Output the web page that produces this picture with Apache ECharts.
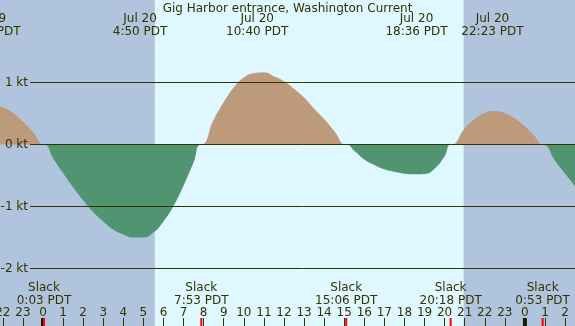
<!DOCTYPE html>
<html>
<head>
<meta charset="utf-8">
<title>Gig Harbor entrance, Washington Current</title>
<script src="https://cdn.jsdelivr.net/npm/echarts@6/dist/echarts.min.js"></script>
<style>html,body{margin:0;padding:0;} #main{width:575px;height:326px;}</style>
</head>
<body>
<div id="main"></div>
<script type="text/javascript">
// current speed in kt, hours counted from Jul 20 0:00 PDT
var hours  = [-2.5, -2, -1.5, -1, -0.5, 0.05,
              0.5, 1, 1.5, 2, 2.5, 3, 3.5, 4, 4.5, 5, 5.5, 6, 6.5, 7, 7.5, 7.88,
              8.5, 9, 9.5, 10, 10.5, 11, 11.5, 12, 12.5, 13, 13.5, 14, 14.5, 15.1,
              15.5, 16, 16.5, 17, 17.5, 18, 18.5, 19, 19.5, 20, 20.33,
              21, 21.5, 22, 22.5, 23, 23.5, 24, 24.5, 24.89,
              25.5, 26, 26.5];
var speeds = [0.65, 0.60, 0.51, 0.37, 0.20, 0,
              -0.22, -0.46, -0.69, -0.90, -1.09, -1.24, -1.37, -1.45, -1.50, -1.50, -1.42, -1.24, -0.99, -0.66, -0.29, 0,
              0.40, 0.68, 0.92, 1.08, 1.15, 1.16, 1.10, 1.02, 0.90, 0.76, 0.58, 0.41, 0.22, 0,
              -0.10, -0.24, -0.33, -0.40, -0.44, -0.47, -0.48, -0.475, -0.39, -0.19, 0,
              0.26, 0.41, 0.51, 0.54, 0.505, 0.42, 0.29, 0.13, 0,
              -0.26, -0.47, -0.67];

// slack water
var slackHours  = [0.05, 7.883, 15.1, 20.3, 24.883];
var slackLabels = ['Slack\n0:03 PDT', 'Slack\n7:53 PDT', 'Slack\n15:06 PDT', 'Slack\n20:18 PDT', 'Slack\n0:53 PDT'];

// max flood / max ebb
var peakHours  = [-2.667, 4.833, 10.667, 18.6, 22.383];
var peakLabels = ['Jul 19\n21:20 PDT', 'Jul 20\n4:50 PDT', 'Jul 20\n10:40 PDT', 'Jul 20\n18:36 PDT', 'Jul 20\n22:23 PDT'];

var sunrise = 5.57, sunset = 20.95;
var midnights = [0, 24];
var tickHours = [-2, -1, 0, 1, 2, 3, 4, 5, 6, 7, 8, 9, 10, 11, 12, 13, 14, 15, 16, 17, 18, 19, 20, 21, 22, 23, 24, 25, 26];
var ktLines = [1, 0, -1, -2];

var xMin = -2.141, xMax = 26.494, yMin = -2.927, yMax = 2.331;
var ink = '#333300';
var font = '12px "DejaVu Sans"';

var myChart = echarts.init(document.getElementById('main'));

function tickItem(color, w) {
    return function (params, api) {
        var p = api.coord([api.value(0), yMin]);
        return {type: 'rect', shape: {x: p[0] - w / 2, y: p[1] - 8, width: w, height: 8}, style: {fill: color}};
    };
}
function labelItem(texts, top) {
    return function (params, api) {
        var p = api.coord([api.value(0), 0]);
        return {
            type: 'text', x: p[0], y: top,
            style: {text: texts[params.dataIndex], fill: ink, font: font, align: 'center', verticalAlign: 'top', lineHeight: 13}
        };
    };
}
function at0(h) { return [h, 0]; }
// flood part (above 0) and ebb part (below 0)
function part(sign) {
    return hours.map(function (h, i) {
        var v = speeds[i];
        return [h, sign > 0 ? Math.max(v, 0) : Math.min(v, 0)];
    });
}
function fillSeries(sign, color) {
    return {
        type: 'line', xAxisIndex: 0, yAxisIndex: 0, z: 2, silent: true,
        data: part(sign), smooth: 0.5, showSymbol: false,
        lineStyle: {width: 0}, areaStyle: {color: color, opacity: 1}
    };
}

var option = {
    backgroundColor: '#b0c4de',
    animation: false,
    title: {
        text: 'Gig Harbor entrance, Washington Current',
        left: 'center', top: 0, padding: [3, 0, 0, 0],
        textStyle: {color: ink, fontSize: 12, fontWeight: 'normal', fontFamily: 'DejaVu Sans'}
    },
    grid: [
        {left: 0, right: 0, top: 0, bottom: 0, outerBoundsMode: 'none'},
        {left: 30, right: 0, top: 0, bottom: 0, outerBoundsMode: 'none'}
    ],
    xAxis: [
        {
            type: 'value', gridIndex: 0, min: xMin, max: xMax, z: 5,
            axisLine: {show: false, onZero: false}, splitLine: {show: false},
            axisTick: {inside: true, length: 8, lineStyle: {color: ink}, customValues: tickHours},
            axisLabel: {
                inside: true, margin: 7, color: ink, fontSize: 12, fontFamily: 'DejaVu Sans',
                customValues: tickHours, hideOverlap: false,
                formatter: function (v) { return String(((v % 24) + 24) % 24); }
            }
        },
        {type: 'value', gridIndex: 1, min: 0, max: 1, show: false}
    ],
    yAxis: [
        {type: 'value', gridIndex: 0, min: yMin, max: yMax, show: false},
        {type: 'value', gridIndex: 1, min: yMin, max: yMax, show: false}
    ],
    series: [
        {
            type: 'line', xAxisIndex: 0, yAxisIndex: 0, data: [], z: 0,
            markArea: {silent: true, itemStyle: {color: '#dff7ff', opacity: 1}, data: [[{xAxis: sunrise}, {xAxis: sunset}]]}
        },
        {
            type: 'line', xAxisIndex: 1, yAxisIndex: 1, data: [], z: 1,
            markLine: {
                silent: true, symbol: ['none', 'none'],
                lineStyle: {color: ink, width: 1, type: 'solid'},
                label: {
                    position: 'start', distance: 2, color: ink, fontSize: 12, fontFamily: 'DejaVu Sans',
                    formatter: function (p) { return p.value + ' kt'; }
                },
                emphasis: {disabled: true},
                data: ktLines.map(function (v) { return {yAxis: v}; })
            }
        },
        fillSeries(1, '#bd9a7a'),
        fillSeries(-1, '#509471'),
        {type: 'custom', z: 6, silent: true, data: midnights.map(at0), renderItem: tickItem('#1a1a00', 4)},
        {type: 'custom', z: 7, silent: true, data: slackHours.map(at0), renderItem: tickItem('#ff0000', 2)},
        {type: 'custom', z: 7, silent: true, data: peakHours.map(at0), renderItem: labelItem(peakLabels, 12)},
        {type: 'custom', z: 7, silent: true, data: slackHours.map(at0), renderItem: labelItem(slackLabels, 281)}
    ]
};
myChart.setOption(option);
</script>
</body>
</html>
